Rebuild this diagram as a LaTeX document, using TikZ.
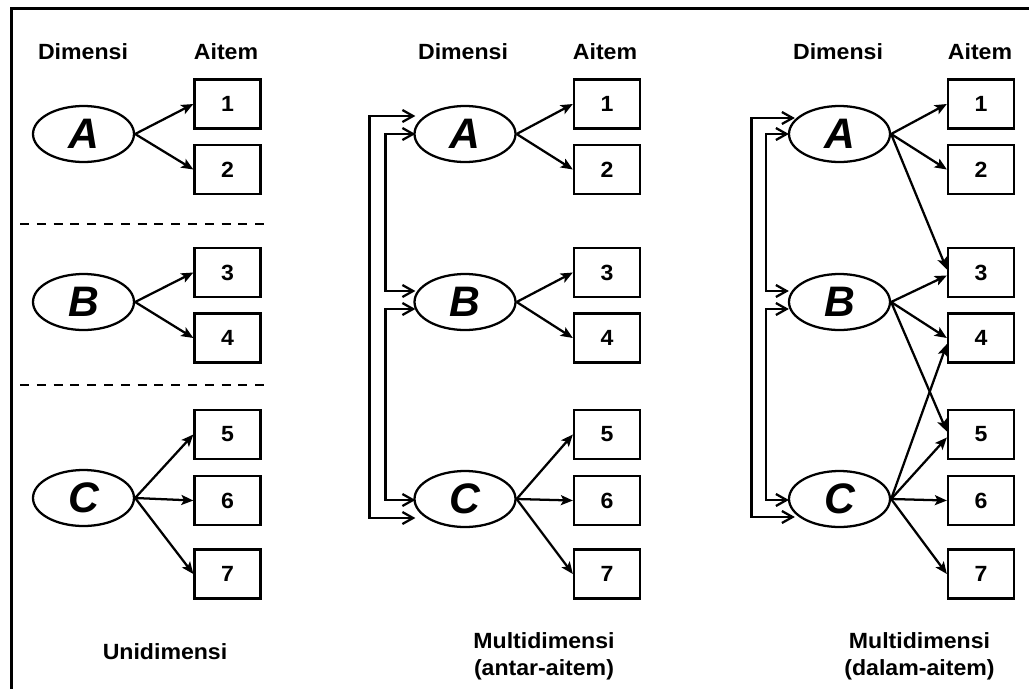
\documentclass[tikz,border=0pt]{standalone}
\usepackage{fontspec}
\setmainfont{Liberation Sans}
\newfontfamily\lblfont[FakeStretch=1.05]{Liberation Sans}
\usetikzlibrary{arrows.meta,calc,shapes.geometric}
\begin{document}
\begin{tikzpicture}[x=0.75pt,y=-0.75pt,
  dim/.style={ellipse, draw, line width=1.7pt, minimum width=75.75pt, minimum height=42pt, inner sep=0pt,
    font=\fontsize{32}{32}\selectfont\bfseries\itshape},
  item/.style={rectangle, draw, line width=1.7pt, minimum width=49.5pt, minimum height=36.75pt, inner sep=0pt,
    font=\lblfont\bfseries\fontsize{16.5}{18}\selectfont},
  hdr/.style={font=\lblfont\bfseries\fontsize{16.5}{20}\selectfont, align=center, inner sep=0pt},
  conn/.style={line width=1.7pt, -{Stealth[length=9pt,width=7.5pt,inset=2pt]}},
  link/.style={line width=1.7pt, {Straight Barb[length=8pt,width=9pt]}-{Straight Barb[length=8pt,width=9pt]}},
  sep/.style={line width=1.7pt, dash pattern=on 6.75pt off 5.85pt},
  frame/.style={line width=2.2pt}
]
\useasboundingbox (0,0) rectangle (1029,689);
\draw[frame] (11.5,689) -- (11.5,8.5) -- (1029,8.5);

% headers
\node[hdr] (hL1) at (83,52) {Dimensi};
\node[hdr] (hL2) at (226,52) {Aitem};
\node[hdr] (hM1) at (463,52) {Dimensi};
\node[hdr] (hM2) at (605,52) {Aitem};
\node[hdr] (hR1) at (838,52) {Dimensi};
\node[hdr] (hR2) at (980,52) {Aitem};

% ---------- left panel ----------
\node[dim] (LA) at (83.5,134) {A};
\node[dim] (LB) at (83.5,302) {B};
\node[dim] (LC) at (83.5,498) {C};
\node[item] (L1) at (227.5,104) {1};
\node[item] (L2) at (227.5,169.5) {2};
\node[item] (L3) at (227.5,272.5) {3};
\node[item] (L4) at (227.5,338) {4};
\node[item] (L5) at (227.5,434.5) {5};
\node[item] (L6) at (227.5,500.5) {6};
\node[item] (L7) at (227.5,574) {7};
\draw[conn] (LA.east) -- (L1.west);
\draw[conn] (LA.east) -- (L2.west);
\draw[conn] (LB.east) -- (L3.west);
\draw[conn] (LB.east) -- (L4.west);
\draw[conn] (LC.east) -- (L5.west);
\draw[conn] (LC.east) -- (L6.west);
\draw[conn] (LC.east) -- (L7.west);
\draw[sep] (20,224) -- (272,224);
\draw[sep] (20,385) -- (272,385);
\node[hdr] (tL) at (165,652) {Unidimensi};

% ---------- middle panel ----------
\node[dim] (MA) at (465,134) {A};
\node[dim] (MB) at (465,302) {B};
\node[dim] (MC) at (465,499) {C};
\node[item] (M1) at (607,104) {1};
\node[item] (M2) at (607,169.5) {2};
\node[item] (M3) at (607,272.5) {3};
\node[item] (M4) at (607,338) {4};
\node[item] (M5) at (607,434.5) {5};
\node[item] (M6) at (607,500.5) {6};
\node[item] (M7) at (607,574) {7};
\draw[conn] (MA.east) -- (M1.west);
\draw[conn] (MA.east) -- (M2.west);
\draw[conn] (MB.east) -- (M3.west);
\draw[conn] (MB.east) -- (M4.west);
\draw[conn] (MC.east) -- (M5.west);
\draw[conn] (MC.east) -- (M6.west);
\draw[conn] (MC.east) -- (M7.west);
\draw[link] ($(MA.west)+(2,-18)$) -- ++(-46,0) |- ($(MC.west)+(2,19)$);
\draw[link] ($(MA.west)+(2,0)$) -- ++(-30,0) |- ($(MB.west)+(2,-11)$);
\draw[link] ($(MB.west)+(2,7)$) -- ++(-30,0) |- ($(MC.west)+(2,1)$);
\node[hdr] (tM) at (544,656) {Multidimensi\\(antar-aitem)};

% ---------- right panel ----------
\node[dim] (RA) at (839.5,134) {A};
\node[dim] (RB) at (839.5,302) {B};
\node[dim] (RC) at (839.5,499) {C};
\node[item] (R1) at (981,104) {1};
\node[item] (R2) at (981,169.5) {2};
\node[item] (R3) at (981,272.5) {3};
\node[item] (R4) at (981,338) {4};
\node[item] (R5) at (981,434.5) {5};
\node[item] (R6) at (981,500.5) {6};
\node[item] (R7) at (981,574) {7};
\draw[conn] (RA.east) -- (R1.west);
\draw[conn] (RA.east) -- (R2.west);
\draw[conn] (RA.east) -- ($(R3.west)+(0,-3)$);
\draw[conn] (RB.east) -- ($(R3.west)+(0,3)$);
\draw[conn] (RB.east) -- (R4.west);
\draw[conn] (RB.east) -- ($(R5.west)+(0,-3)$);
\draw[conn] (RC.east) -- ($(R4.west)+(0,6)$);
\draw[conn] (RC.east) -- ($(R5.west)+(0,3)$);
\draw[conn] (RC.east) -- (R6.west);
\draw[conn] (RC.east) -- (R7.west);
\draw[link] ($(RA.west)+(7,-16)$) -- ++(-43.5,0) |- ($(RC.west)+(7,18)$);
\draw[link] ($(RA.west)+(1,0)$) -- ++(-23,0) |- ($(RB.west)+(1,-11)$);
\draw[link] ($(RB.west)+(1,7)$) -- ++(-23,0) |- ($(RC.west)+(1,1)$);
\node[hdr] (tR) at (919.5,656) {Multidimensi\\(dalam-aitem)};
\end{tikzpicture}
\end{document}
